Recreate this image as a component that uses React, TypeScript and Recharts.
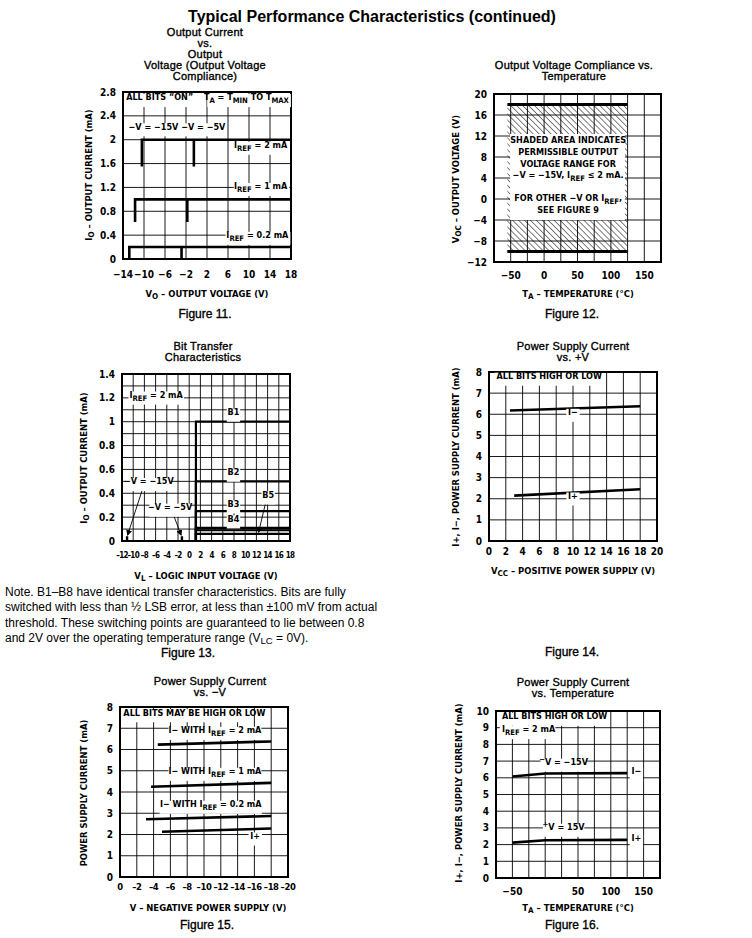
import React from 'react';
import {
  LineChart,
  Line,
  XAxis,
  YAxis,
  CartesianGrid,
  ReferenceArea,
  ReferenceLine,
  ReferenceDot,
} from 'recharts';

const NARROW = "'Liberation Sans Narrow', 'DejaVu Sans Condensed', 'Arial Narrow', sans-serif";
const SANS = "'Liberation Sans', Arial, Helvetica, sans-serif";

// ---- Figure 11: output current vs output voltage ----
const F11_LEVELS = [2, 1, 0.2]; // I_REF in mA
const F11_KNEE_15V = [-10.4, -11.7, -12.8];
const F11_KNEE_5V = [-0.5, -1.75, -2.85];
const F11_FOOT = [1.55, 0.62, 0];
const F11_VMAX = 18;
const F11_X_TICKS = [-14, -10, -6, -2, 2, 6, 10, 14, 18];
const F11_Y_TICKS = [0, 0.4, 0.8, 1.2, 1.6, 2, 2.4, 2.8];

// ---- Figure 12: compliance vs temperature ----
const F12_T_RANGE = [-55, 125];
const F12_V_RANGE = [-10, 18];
const F12_CLEAR_T = [-51, 121];
const F12_CLEAR_V = [-4, 12.4];
const F12_X_TICKS = [-75, -50, -25, 0, 25, 50, 75, 100, 125, 150, 175];
const F12_X_LABELS = [-50, 0, 50, 100, 150];
const F12_Y_TICKS = [-12, -8, -4, 0, 4, 8, 12, 16, 20];
const F12_NOTE = [
  'SHADED AREA INDICATES',
  'PERMISSIBLE OUTPUT',
  'VOLTAGE RANGE FOR',
  '−V = −15V, I_{REF} ≤ 2 mA.',
  '',
  'FOR OTHER −V OR I_{REF},',
  'SEE FIGURE 9',
];

// ---- Figure 13: bit transfer ----
const F13_LEVELS = [1, 0.5, 0.25, 0.11, 0.09, 0.06];
const F13_THRESHOLD = 1.2;
const F13_VMAX = 18;
const F13_NEG_MARKS = [-11.1, -1.3]; // -V = -15V, -V = -5V
const F13_NEG_HEIGHT = 0.04;
const F13_X_TICKS = [-12, -10, -8, -6, -4, -2, 0, 2, 4, 6, 8, 10, 12, 14, 16, 18];
const F13_Y_TICKS = [0, 0.1, 0.2, 0.3, 0.4, 0.5, 0.6, 0.7, 0.8, 0.9, 1, 1.1, 1.2, 1.3, 1.4];

// ---- Figure 14: supply current vs +V ----
const F14_VCC_NEG = [2.5, 18];
const F14_I_NEG = [6.18, 6.38];
const F14_VCC_POS = [3, 18];
const F14_I_POS = [2.15, 2.45];
const F14_X_TICKS = [0, 2, 4, 6, 8, 10, 12, 14, 16, 18, 20];
const F14_Y_TICKS = [0, 1, 2, 3, 4, 5, 6, 7, 8];

// ---- Figure 15: supply current vs -V ----
const F15_V_2MA = [-4.5, -18];
const F15_I_2MA = [6.23, 6.38];
const F15_V_1MA = [-3.7, -18];
const F15_I_1MA = [4.25, 4.43];
const F15_V_02MA = [-3.1, -18];
const F15_I_02MA = [2.72, 2.87];
const F15_V_POS = [-5, -18];
const F15_I_POS = [2.13, 2.28];
const F15_X_TICKS = [0, -2, -4, -6, -8, -10, -12, -14, -16, -18, -20];
const F15_Y_TICKS = [0, 1, 2, 3, 4, 5, 6, 7, 8];

// ---- Figure 16: supply current vs temperature ----
const F16_TEMP = [-50, 0, 125];
const F16_I_NEG = [6.08, 6.26, 6.28];
const F16_I_POS = [2.12, 2.26, 2.28];
const F16_X_TICKS = [-75, -50, -25, 0, 25, 50, 75, 100, 125, 150, 175];
const F16_X_LABELS = [-50, 50, 100, 150];
const F16_Y_TICKS = [0, 1, 2, 3, 4, 5, 6, 7, 8, 9, 10];

const zip = (xs: number[], ys: number[]) => xs.map((x, i) => ({ x, y: ys[i] }));
const num = (v: number) => (v < 0 ? '−' + Math.abs(v) : String(v));
const shortNum = (v: number) => (v < 0 ? '–' + Math.abs(v) : String(v));

function svgRuns(text: string, fs: number) {
  const parts = text.split(/(_\{[^}]*\}|\^\{[^}]*\})/).filter((p) => p !== '');
  let shift = 0;
  return parts.map((p, i) => {
    let target = 0;
    let body = p;
    let size = fs;
    if (p.startsWith('_{')) {
      target = fs * 0.3;
      body = p.slice(2, -1);
      size = fs * 0.85;
    } else if (p.startsWith('^{')) {
      target = -fs * 0.35;
      body = p.slice(2, -1);
      size = fs * 0.85;
    }
    const dy = target - shift;
    shift = target;
    return (
      <tspan key={i} dy={dy} fontSize={size}>
        {body}
      </tspan>
    );
  });
}

function textWidth(text: string, fs: number) {
  const plain = text.replace(/[_^]\{([^}]*)\}/g, '$1');
  return plain.length * fs * 0.52;
}

type Anchor = 'start' | 'middle' | 'end';

function Tag({ cx = 0, cy = 0, text, anchor = 'middle', fs = 9, box = true }: any) {
  const w = textWidth(text, fs);
  const x0 = anchor === 'start' ? cx : anchor === 'end' ? cx - w : cx - w / 2;
  return (
    <g>
      {box && <rect x={x0 - 2} y={cy - fs * 0.7} width={w + 4} height={fs * 1.45} fill="#fff" />}
      <text
        x={cx}
        y={cy}
        dy={fs * 0.35}
        textAnchor={anchor}
        fontFamily={NARROW}
        fontWeight="bold"
        fontSize={fs}
        fill="#000"
      >
        {svgRuns(text, fs)}
      </text>
    </g>
  );
}

function MultiTag({ cx = 0, cy = 0, lines, fs = 9, gap = 11.6 }: any) {
  return (
    <g>
      {lines.map((l: string, i: number) => (
        <text
          key={i}
          x={cx}
          y={cy + i * gap}
          dy={fs * 0.35}
          textAnchor="middle"
          fontFamily={NARROW}
          fontWeight="bold"
          fontSize={fs}
          fill="#000"
        >
          {svgRuns(l, fs)}
        </text>
      ))}
    </g>
  );
}

const note = (x: number, y: number, text: string, anchor: Anchor = 'middle', box = true) => (
  <ReferenceDot
    key={`${text}-${x}-${y}`}
    x={x}
    y={y}
    r={0}
    shape={(p: any) => <Tag cx={p.cx} cy={p.cy} text={text} anchor={anchor} box={box} />}
  />
);

const arrow = (x1: number, y1: number, x2: number, y2: number) => (
  <ReferenceLine
    key={`a${x1}${y1}`}
    segment={[
      { x: x1, y: y1 },
      { x: x2, y: y2 },
    ]}
    stroke="#000"
    strokeWidth={0.9}
    markerEnd="url(#arrowHead)"
  />
);

const series = (data: { x: number; y: number }[], key: string, w = 2.6) => (
  <Line
    key={key}
    data={data}
    dataKey="y"
    stroke="#000"
    strokeWidth={w}
    dot={false}
    isAnimationActive={false}
    strokeLinejoin="miter"
  />
);

type Plot = { x: number; y: number; w: number; h: number };

function Frame({
  plot,
  xDomain,
  yDomain,
  xTicks,
  yTicks,
  xFmt = num,
  yFmt = num,
  xReversed = false,
  gapX = 10,
  xTickStyle = {},
  defs,
  children,
}: any) {
  const L = 45;
  const T = 8;
  const R = 16;
  const B = 30;
  const tick = { fill: '#000', fontSize: 10, fontFamily: NARROW, fontWeight: 'bold' };
  const xTick = { ...tick, ...xTickStyle };
  return (
    <div style={{ position: 'absolute', left: plot.x - L, top: plot.y - T }}>
      <LineChart
        width={plot.w + L + R}
        height={plot.h + T + B}
        margin={{ top: T, right: R, bottom: 0, left: 0 }}
      >
        {defs}
        <CartesianGrid stroke="#000" strokeWidth={0.9} />
        <XAxis
          type="number"
          dataKey="x"
          domain={xDomain}
          ticks={xTicks}
          interval={0}
          reversed={xReversed}
          height={B}
          axisLine={false}
          tickLine={false}
          tickSize={0}
          tickMargin={gapX}
          tick={xTick}
          tickFormatter={xFmt}
          allowDataOverflow
        />
        <YAxis
          type="number"
          dataKey="y"
          domain={yDomain}
          ticks={yTicks}
          interval={0}
          width={L}
          axisLine={false}
          tickLine={false}
          tickSize={0}
          tickMargin={7}
          tick={tick}
          tickFormatter={yFmt}
          allowDataOverflow
        />
        {children}
        <ReferenceArea
          x1={xDomain[0]}
          x2={xDomain[1]}
          y1={yDomain[0]}
          y2={yDomain[1]}
          fill="none"
          stroke="#000"
          strokeWidth={2}
        />
      </LineChart>
    </div>
  );
}

function rich(text: string) {
  const parts = text.split(/(_\{[^}]*\})/).filter((p) => p !== '');
  return parts.map((p, i) =>
    p.startsWith('_{') ? (
      <sub key={i} style={{ fontSize: '0.85em', verticalAlign: '-0.3em', lineHeight: 0 }}>
        {p.slice(2, -1)}
      </sub>
    ) : (
      <span key={i}>{p}</span>
    )
  );
}

function Centered({ x, y, children, style }: any) {
  return (
    <div
      style={{
        position: 'absolute',
        left: x,
        top: y,
        transform: 'translate(-50%, -50%)',
        whiteSpace: 'nowrap',
        textAlign: 'center',
        ...style,
      }}
    >
      {children}
    </div>
  );
}

const titleStyle = {
  fontFamily: SANS,
  fontSize: 11,
  lineHeight: '11px',
  letterSpacing: 0.25,
  color: '#000',
  WebkitTextStroke: '0.35px #000',
};
const axisStyle = {
  fontFamily: NARROW,
  fontSize: 9.4,
  fontWeight: 'bold',
  color: '#000',
};
const figStyle = { fontFamily: SANS, fontSize: 12, color: '#000', WebkitTextStroke: '0.35px #000' };

function AxisTitleX({ x, y, text }: any) {
  return (
    <Centered x={x} y={y} style={axisStyle}>
      {rich(text)}
    </Centered>
  );
}

function AxisTitleY({ x, y, text }: any) {
  return (
    <div
      style={{
        position: 'absolute',
        left: x,
        top: y,
        transform: 'translate(-50%, -50%) rotate(-90deg)',
        whiteSpace: 'nowrap',
        ...axisStyle,
      }}
    >
      {rich(text)}
    </div>
  );
}

const P11: Plot = { x: 123, y: 92, w: 168, h: 167 };
const P12: Plot = { x: 494, y: 94, w: 167, h: 168 };
const P13: Plot = { x: 122, y: 374, w: 168, h: 167 };
const P14: Plot = { x: 489, y: 372, w: 168, h: 169 };
const P15: Plot = { x: 120, y: 707, w: 168, h: 170 };
const P16: Plot = { x: 496, y: 711, w: 164, h: 167 };

export default function App() {
  const f11 = F11_LEVELS.flatMap((lvl, i) => [
    series(
      [
        { x: F11_KNEE_15V[i], y: F11_FOOT[i] },
        { x: F11_KNEE_15V[i], y: lvl },
        { x: F11_VMAX, y: lvl },
      ],
      `f11a${i}`
    ),
    series(
      [
        { x: F11_KNEE_5V[i], y: F11_FOOT[i] },
        { x: F11_KNEE_5V[i], y: lvl },
      ],
      `f11b${i}`
    ),
  ]);

  const f13 = F13_LEVELS.map((lvl, i) =>
    series(
      [
        { x: F13_THRESHOLD, y: 0 },
        { x: F13_THRESHOLD, y: lvl },
        { x: F13_VMAX, y: lvl },
      ],
      `f13${i}`,
      2.2
    )
  );
  const f13neg = F13_NEG_MARKS.map((v, i) =>
    series(
      [
        { x: v, y: 0 },
        { x: v, y: F13_NEG_HEIGHT },
      ],
      `f13n${i}`,
      2.4
    )
  );

  return (
    <div
      style={{
        position: 'absolute',
        left: 0,
        top: 0,
        width: 752,
        height: 938,
        background: '#fff',
        overflow: 'hidden',
      }}
    >
      <Centered x={372} y={17} style={{ fontFamily: SANS, fontSize: 16, fontWeight: 'bold' }}>
        Typical Performance Characteristics (continued)
      </Centered>

      {/* Figure 11 */}
      <Centered x={205} y={54} style={titleStyle}>
        Output Current
        <br />
        vs.
        <br />
        Output
        <br />
        Voltage (Output Voltage
        <br />
        Compliance)
      </Centered>
      <Frame
        plot={P11}
        xDomain={[-14, 18]}
        yDomain={[0, 2.8]}
        xTicks={F11_X_TICKS}
        yTicks={F11_Y_TICKS}
        gapX={11.5}
      >
        {note(-13.4, 2.66, 'ALL BITS “ON”', 'start')}
        {note(17.6, 2.66, 'T_{A} = T_{MIN} TO T_{MAX}', 'end')}
        {note(-8.2, 2.17, '−V = −15V')}
        {note(1.3, 2.17, '−V = −5V')}
        {note(17.3, 1.86, 'I_{REF} = 2 mA', 'end')}
        {note(17.3, 1.17, 'I_{REF} = 1 mA', 'end')}
        {note(17.5, 0.35, 'I_{REF} = 0.2 mA', 'end')}
        {f11}
      </Frame>
      <AxisTitleY x={88} y={175} text="I_{O} – OUTPUT CURRENT (mA)" />
      <AxisTitleX x={207} y={293} text="V_{O} – OUTPUT VOLTAGE (V)" />
      <Centered x={205} y={314} style={figStyle}>
        Figure 11.
      </Centered>

      {/* Figure 12 */}
      <Centered x={574} y={71} style={titleStyle}>
        Output Voltage Compliance vs.
        <br />
        Temperature
      </Centered>
      <Frame
        plot={P12}
        xDomain={[-75, 175]}
        yDomain={[-12, 20]}
        xTicks={F12_X_TICKS}
        yTicks={F12_Y_TICKS}
        xFmt={(v: number) => (F12_X_LABELS.includes(v) ? num(v) : '')}
        gapX={9.5}
        defs={
          <defs>
            <pattern
              id="hatch12"
              width="4.2"
              height="4.2"
              patternUnits="userSpaceOnUse"
              patternTransform="rotate(-45)"
            >
              <line x1="0" y1="0" x2="0" y2="4.2" stroke="#000" strokeWidth="1" />
            </pattern>
          </defs>
        }
      >
        <ReferenceArea
          x1={F12_T_RANGE[0]}
          x2={F12_T_RANGE[1]}
          y1={F12_V_RANGE[0]}
          y2={F12_V_RANGE[1]}
          fill="url(#hatch12)"
          fillOpacity={1}
        />
        <ReferenceArea
          x1={F12_CLEAR_T[0]}
          x2={F12_CLEAR_T[1]}
          y1={F12_CLEAR_V[0]}
          y2={F12_CLEAR_V[1]}
          fill="#fff"
          fillOpacity={1}
        />
        <ReferenceLine
          segment={[
            { x: F12_T_RANGE[0], y: F12_V_RANGE[1] },
            { x: F12_T_RANGE[1], y: F12_V_RANGE[1] },
          ]}
          stroke="#000"
          strokeWidth={3}
        />
        <ReferenceLine
          segment={[
            { x: F12_T_RANGE[0], y: F12_V_RANGE[0] },
            { x: F12_T_RANGE[1], y: F12_V_RANGE[0] },
          ]}
          stroke="#000"
          strokeWidth={3}
        />
        <ReferenceDot
          x={36}
          y={10.6}
          r={0}
          shape={(p: any) => <MultiTag cx={p.cx} cy={p.cy} lines={F12_NOTE} />}
        />
      </Frame>
      <AxisTitleY x={455} y={179} text="V_{OC} – OUTPUT VOLTAGE (V)" />
      <AxisTitleX x={578} y={293} text="T_{A} – TEMPERATURE (°C)" />
      <Centered x={572} y={314} style={figStyle}>
        Figure 12.
      </Centered>

      {/* Figure 13 */}
      <Centered x={203} y={352} style={titleStyle}>
        Bit Transfer
        <br />
        Characteristics
      </Centered>
      <Frame
        plot={P13}
        xDomain={[-12, 18]}
        yDomain={[0, 1.4]}
        xTicks={F13_X_TICKS}
        yTicks={F13_Y_TICKS}
        xFmt={shortNum}
        xTickStyle={{ fontSize: 8, letterSpacing: -0.7 }}
        yFmt={(v: number) => (Math.round(v * 10) % 2 === 0 ? num(v) : '')}
        gapX={11.5}
        defs={
          <defs>
            <marker
              id="arrowHead"
              markerWidth="6"
              markerHeight="6"
              refX="5"
              refY="3"
              orient="auto"
              markerUnits="userSpaceOnUse"
            >
              <path d="M0,0 L6,3 L0,6 z" fill="#000" />
            </marker>
          </defs>
        }
      >
        {note(-5.9, 1.2, 'I_{REF} = 2 mA')}
        {note(7.9, 1.056, 'B1')}
        {note(7.9, 0.553, 'B2')}
        {note(7.9, 0.288, 'B3')}
        {note(7.9, 0.162, 'B4')}
        {note(14.1, 0.363, 'B5')}
        {note(-7.2, 0.475, '−V = −15V')}
        {note(-3.4, 0.26, '−V = −5V')}
        {f13}
        {f13neg}
        {arrow(-8.3, 0.44, -11.0, 0.05)}
        {arrow(-2.9, 0.23, -1.45, 0.05)}
        {arrow(13.7, 0.33, 12.4, 0.075)}
      </Frame>
      <AxisTitleY x={83} y={458} text="I_{O} – OUTPUT CURRENT (mA)" />
      <AxisTitleX x={206} y={575} text="V_{L} – LOGIC INPUT VOLTAGE (V)" />
      <div
        style={{
          position: 'absolute',
          left: 5,
          top: 585,
          fontFamily: SANS,
          fontSize: 12,
          lineHeight: '15.4px',
          color: '#000',
          whiteSpace: 'nowrap',
        }}
      >
        Note. B1–B8 have identical transfer characteristics. Bits are fully
        <br />
        switched with less than ½ LSB error, at less than ±100 mV from actual
        <br />
        threshold. These switching points are guaranteed to lie between 0.8
        <br />
        and 2V over the operating temperature range (V
        <sub style={{ fontSize: '0.8em', verticalAlign: '-0.25em', lineHeight: 0 }}>LC</sub> = 0V).
      </div>
      <Centered x={188} y={653} style={figStyle}>
        Figure 13.
      </Centered>

      {/* Figure 14 */}
      <Centered x={573} y={352} style={titleStyle}>
        Power Supply Current
        <br />
        vs. +V
      </Centered>
      <Frame
        plot={P14}
        xDomain={[0, 20]}
        yDomain={[0, 8]}
        xTicks={F14_X_TICKS}
        yTicks={F14_Y_TICKS}
        gapX={6.5}
      >
        {note(0.9, 7.67, 'ALL BITS HIGH OR LOW', 'start')}
        {note(10, 5.96, 'I−')}
        {note(10, 2.0, 'I+')}
        {series(zip(F14_VCC_NEG, F14_I_NEG), 'f14n')}
        {series(zip(F14_VCC_POS, F14_I_POS), 'f14p')}
      </Frame>
      <AxisTitleY x={455} y={457} text="I+, I−, POWER SUPPLY CURRENT (mA)" />
      <AxisTitleX x={573} y={570} text="V_{CC} – POSITIVE POWER SUPPLY (V)" />
      <Centered x={572} y={652} style={figStyle}>
        Figure 14.
      </Centered>

      {/* Figure 15 */}
      <Centered x={210} y={687} style={titleStyle}>
        Power Supply Current
        <br />
        vs. −V
      </Centered>
      <Frame
        plot={P15}
        xDomain={[-20, 0]}
        yDomain={[0, 8]}
        xTicks={F15_X_TICKS}
        yTicks={F15_Y_TICKS}
        xFmt={shortNum}
        xTickStyle={{ fontSize: 9.4, letterSpacing: -0.4 }}
        xReversed
        gapX={6.5}
      >
        {note(-0.4, 7.6, 'ALL BITS MAY BE HIGH OR LOW', 'start')}
        {note(-11.3, 6.77, 'I− WITH I_{REF} = 2 mA')}
        {note(-11.3, 4.84, 'I− WITH I_{REF} = 1 mA')}
        {note(-10.8, 3.29, 'I− WITH I_{REF} = 0.2 mA')}
        {note(-16.1, 1.8, 'I+')}
        {series(zip(F15_V_2MA, F15_I_2MA), 'f15a')}
        {series(zip(F15_V_1MA, F15_I_1MA), 'f15b')}
        {series(zip(F15_V_02MA, F15_I_02MA), 'f15c')}
        {series(zip(F15_V_POS, F15_I_POS), 'f15d')}
      </Frame>
      <AxisTitleY x={83} y={793} text="POWER SUPPLY CURRENT (mA)" />
      <AxisTitleX x={208} y={907} text="V – NEGATIVE POWER SUPPLY (V)" />
      <Centered x={207} y={925} style={figStyle}>
        Figure 15.
      </Centered>

      {/* Figure 16 */}
      <Centered x={573} y={688} style={titleStyle}>
        Power Supply Current
        <br />
        vs. Temperature
      </Centered>
      <Frame
        plot={P16}
        xDomain={[-75, 175]}
        yDomain={[0, 10]}
        xTicks={F16_X_TICKS}
        yTicks={F16_Y_TICKS}
        xFmt={(v: number) => (F16_X_LABELS.includes(v) ? num(v) : '')}
        gapX={9.5}
      >
        {note(-66, 9.52, 'ALL BITS HIGH OR LOW', 'start')}
        {note(-66, 8.72, 'I_{REF} = 2 mA', 'start')}
        {note(28, 6.77, '^{−}V = −15V')}
        {note(28, 2.87, '^{+}V = 15V')}
        {note(139, 6.2, 'I−')}
        {note(139, 2.2, 'I+')}
        {series(zip(F16_TEMP, F16_I_NEG), 'f16n')}
        {series(zip(F16_TEMP, F16_I_POS), 'f16p')}
      </Frame>
      <AxisTitleY x={458} y={793} text="I+, I−, POWER SUPPLY CURRENT (mA)" />
      <AxisTitleX x={578} y={907} text="T_{A} – TEMPERATURE (°C)" />
      <Centered x={572} y={925} style={figStyle}>
        Figure 16.
      </Centered>
    </div>
  );
}
